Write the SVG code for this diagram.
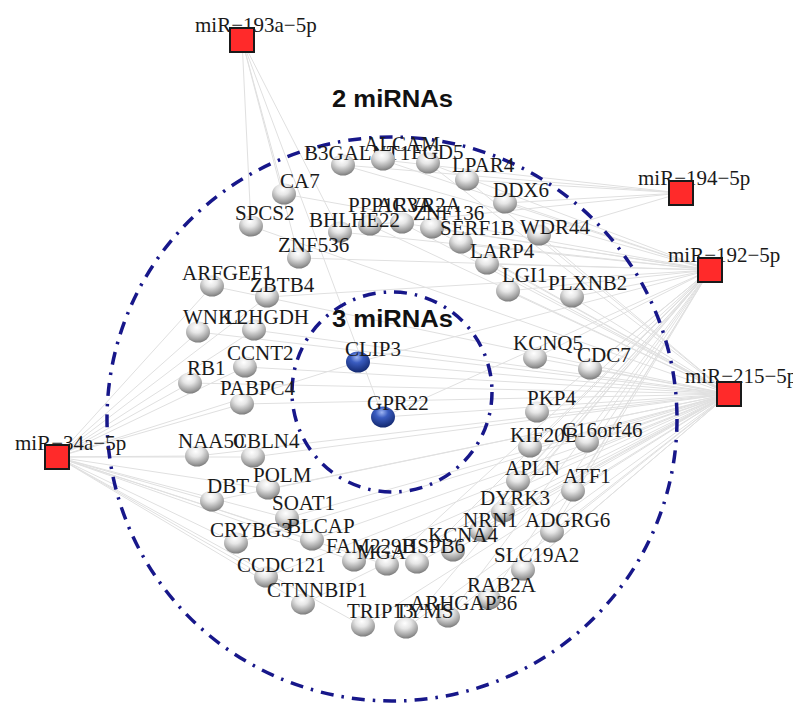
<svg xmlns="http://www.w3.org/2000/svg" width="793" height="706" viewBox="0 0 793 706">
<defs>
<radialGradient id="gs" cx="0.45" cy="0.28" r="0.75">
<stop offset="0" stop-color="#ffffff"/>
<stop offset="0.35" stop-color="#e6e6e6"/>
<stop offset="0.8" stop-color="#9c9c9c"/>
<stop offset="1" stop-color="#747474"/>
</radialGradient>
<radialGradient id="bs" cx="0.45" cy="0.28" r="0.75">
<stop offset="0" stop-color="#9db4f2"/>
<stop offset="0.35" stop-color="#3a5cc0"/>
<stop offset="1" stop-color="#10256a"/>
</radialGradient>
</defs>
<style>
.g{font-family:"Liberation Serif","Times New Roman",serif;font-size:21px;fill:#1a1a1a}
.m{font-family:"Liberation Serif","Times New Roman",serif;font-size:21px;fill:#1a1a1a}
.h{font-family:"Liberation Sans",Arial,sans-serif;font-size:23px;font-weight:bold;fill:#111}
.ring{fill:none;stroke:#17178a;stroke-width:3.5;stroke-dasharray:13 8 2.5 8}
.sq{fill:#ff2a2a;stroke:#1a1a1a;stroke-width:2}
.sp{fill:url(#gs)}
.bp{fill:url(#bs)}
#edges line{stroke:#e0e0e0;stroke-width:1}
</style>
<rect width="793" height="706" fill="#ffffff"/>
<g id="edges">
<line x1="57" y1="457" x2="212" y2="286"/><line x1="57" y1="457" x2="198" y2="332"/><line x1="57" y1="457" x2="254" y2="330"/>
<line x1="57" y1="457" x2="190" y2="383"/><line x1="57" y1="457" x2="245" y2="367"/><line x1="57" y1="457" x2="242" y2="404"/>
<line x1="57" y1="457" x2="197" y2="456"/><line x1="57" y1="457" x2="253" y2="457"/><line x1="57" y1="457" x2="268" y2="489"/>
<line x1="57" y1="457" x2="212" y2="501"/><line x1="57" y1="457" x2="287" y2="518"/><line x1="57" y1="457" x2="236" y2="543"/>
<line x1="57" y1="457" x2="312" y2="540"/><line x1="57" y1="457" x2="266" y2="577"/><line x1="57" y1="457" x2="303" y2="604"/>
<line x1="57" y1="457" x2="354" y2="561"/><line x1="57" y1="457" x2="363" y2="626"/><line x1="57" y1="457" x2="267" y2="297"/>
<line x1="57" y1="457" x2="387" y2="565"/><line x1="57" y1="457" x2="358" y2="362"/>
<line x1="242" y1="40" x2="284" y2="194"/><line x1="242" y1="40" x2="299" y2="258"/><line x1="242" y1="40" x2="340" y2="232"/>
<line x1="242" y1="40" x2="251" y2="226"/><line x1="242" y1="40" x2="383" y2="417"/>
<line x1="681" y1="193" x2="343" y2="165"/><line x1="681" y1="193" x2="383" y2="160"/><line x1="681" y1="193" x2="505" y2="203"/>
<line x1="681" y1="193" x2="539" y2="235"/><line x1="681" y1="193" x2="370" y2="225"/><line x1="681" y1="193" x2="467" y2="180"/>
<line x1="710" y1="270" x2="343" y2="165"/><line x1="710" y1="270" x2="383" y2="160"/><line x1="710" y1="270" x2="505" y2="203"/>
<line x1="710" y1="270" x2="284" y2="194"/><line x1="710" y1="270" x2="299" y2="258"/><line x1="710" y1="270" x2="340" y2="232"/>
<line x1="710" y1="270" x2="267" y2="297"/><line x1="710" y1="270" x2="387" y2="565"/><line x1="710" y1="270" x2="428" y2="163"/>
<line x1="710" y1="270" x2="402" y2="223"/><line x1="710" y1="270" x2="432" y2="228"/><line x1="710" y1="270" x2="461" y2="243"/>
<line x1="710" y1="270" x2="487" y2="264"/><line x1="710" y1="270" x2="508" y2="291"/><line x1="710" y1="270" x2="572" y2="297"/>
<line x1="710" y1="270" x2="535" y2="358"/><line x1="710" y1="270" x2="590" y2="369"/><line x1="710" y1="270" x2="537" y2="412"/>
<line x1="710" y1="270" x2="530" y2="447"/><line x1="710" y1="270" x2="587" y2="442"/><line x1="710" y1="270" x2="518" y2="481"/>
<line x1="710" y1="270" x2="573" y2="491"/><line x1="710" y1="270" x2="503" y2="512"/><line x1="710" y1="270" x2="481" y2="531"/>
<line x1="710" y1="270" x2="552" y2="532"/><line x1="710" y1="270" x2="523" y2="570"/><line x1="710" y1="270" x2="489" y2="599"/>
<line x1="710" y1="270" x2="448" y2="617"/><line x1="710" y1="270" x2="406" y2="628"/><line x1="710" y1="270" x2="453" y2="551"/>
<line x1="710" y1="270" x2="417" y2="563"/><line x1="710" y1="270" x2="358" y2="362"/><line x1="710" y1="270" x2="383" y2="417"/>
<line x1="729" y1="394" x2="539" y2="235"/><line x1="729" y1="394" x2="370" y2="225"/><line x1="729" y1="394" x2="467" y2="180"/>
<line x1="729" y1="394" x2="251" y2="226"/><line x1="729" y1="394" x2="428" y2="163"/><line x1="729" y1="394" x2="402" y2="223"/>
<line x1="729" y1="394" x2="432" y2="228"/><line x1="729" y1="394" x2="461" y2="243"/><line x1="729" y1="394" x2="487" y2="264"/>
<line x1="729" y1="394" x2="508" y2="291"/><line x1="729" y1="394" x2="572" y2="297"/><line x1="729" y1="394" x2="535" y2="358"/>
<line x1="729" y1="394" x2="590" y2="369"/><line x1="729" y1="394" x2="537" y2="412"/><line x1="729" y1="394" x2="530" y2="447"/>
<line x1="729" y1="394" x2="587" y2="442"/><line x1="729" y1="394" x2="518" y2="481"/><line x1="729" y1="394" x2="573" y2="491"/>
<line x1="729" y1="394" x2="503" y2="512"/><line x1="729" y1="394" x2="481" y2="531"/><line x1="729" y1="394" x2="552" y2="532"/>
<line x1="729" y1="394" x2="523" y2="570"/><line x1="729" y1="394" x2="489" y2="599"/><line x1="729" y1="394" x2="448" y2="617"/>
<line x1="729" y1="394" x2="406" y2="628"/><line x1="729" y1="394" x2="453" y2="551"/><line x1="729" y1="394" x2="417" y2="563"/>
<line x1="729" y1="394" x2="212" y2="286"/><line x1="729" y1="394" x2="198" y2="332"/><line x1="729" y1="394" x2="254" y2="330"/>
<line x1="729" y1="394" x2="190" y2="383"/><line x1="729" y1="394" x2="245" y2="367"/><line x1="729" y1="394" x2="242" y2="404"/>
<line x1="729" y1="394" x2="197" y2="456"/><line x1="729" y1="394" x2="253" y2="457"/><line x1="729" y1="394" x2="268" y2="489"/>
<line x1="729" y1="394" x2="212" y2="501"/><line x1="729" y1="394" x2="287" y2="518"/><line x1="729" y1="394" x2="236" y2="543"/>
<line x1="729" y1="394" x2="312" y2="540"/><line x1="729" y1="394" x2="266" y2="577"/><line x1="729" y1="394" x2="303" y2="604"/>
<line x1="729" y1="394" x2="354" y2="561"/><line x1="729" y1="394" x2="363" y2="626"/><line x1="729" y1="394" x2="358" y2="362"/>
<line x1="729" y1="394" x2="383" y2="417"/>
</g>
<g id="rings">
<ellipse class="ring" cx="392" cy="419" rx="285" ry="282"/>
<circle class="ring" cx="392" cy="392" r="100"/>
<text class="h" x="332" y="107" textLength="121" lengthAdjust="spacingAndGlyphs">2 miRNAs</text>
<text class="h" x="332" y="327" textLength="121" lengthAdjust="spacingAndGlyphs">3 miRNAs</text>
</g>
<g id="genes">
<g id="n-B3GALNT1"><ellipse class="sp" cx="343" cy="165" rx="12" ry="10.5"/><text class="g" x="304" y="160">B3GALNT1</text></g>
<g id="n-ALCAM"><ellipse class="sp" cx="383" cy="160" rx="12" ry="10.5"/><text class="g" x="364" y="151">ALCAM</text></g>
<g id="n-FGD5"><ellipse class="sp" cx="428" cy="163" rx="12" ry="10.5"/><text class="g" x="411" y="159">FGD5</text></g>
<g id="n-LPAR4"><ellipse class="sp" cx="467" cy="180" rx="12" ry="10.5"/><text class="g" x="452" y="172">LPAR4</text></g>
<g id="n-CA7"><ellipse class="sp" cx="284" cy="194" rx="12" ry="10.5"/><text class="g" x="280" y="188">CA7</text></g>
<g id="n-DDX6"><ellipse class="sp" cx="505" cy="203" rx="12" ry="10.5"/><text class="g" x="493" y="197">DDX6</text></g>
<g id="n-SPCS2"><ellipse class="sp" cx="251" cy="226" rx="12" ry="10.5"/><text class="g" x="235" y="220">SPCS2</text></g>
<g id="n-PPP1R3A"><ellipse class="sp" cx="370" cy="225" rx="12" ry="10.5"/><text class="g" x="348" y="212">PPP1R3A</text></g>
<g id="n-ACVR2A"><ellipse class="sp" cx="402" cy="223" rx="12" ry="10.5"/><text class="g" x="377" y="212">ACVR2A</text></g>
<g id="n-ZNF136"><ellipse class="sp" cx="432" cy="228" rx="12" ry="10.5"/><text class="g" x="413" y="220">ZNF136</text></g>
<g id="n-BHLHE22"><ellipse class="sp" cx="340" cy="232" rx="12" ry="10.5"/><text class="g" x="309" y="227">BHLHE22</text></g>
<g id="n-WDR44"><ellipse class="sp" cx="539" cy="235" rx="12" ry="10.5"/><text class="g" x="520" y="234">WDR44</text></g>
<g id="n-SERF1B"><ellipse class="sp" cx="461" cy="243" rx="12" ry="10.5"/><text class="g" x="440" y="235">SERF1B</text></g>
<g id="n-ZNF536"><ellipse class="sp" cx="299" cy="258" rx="12" ry="10.5"/><text class="g" x="278" y="252">ZNF536</text></g>
<g id="n-LARP4"><ellipse class="sp" cx="487" cy="264" rx="12" ry="10.5"/><text class="g" x="470" y="258">LARP4</text></g>
<g id="n-ARFGEF1"><ellipse class="sp" cx="212" cy="286" rx="12" ry="10.5"/><text class="g" x="182" y="280">ARFGEF1</text></g>
<g id="n-LGI1"><ellipse class="sp" cx="508" cy="291" rx="12" ry="10.5"/><text class="g" x="502" y="282">LGI1</text></g>
<g id="n-ZBTB4"><ellipse class="sp" cx="267" cy="297" rx="12" ry="10.5"/><text class="g" x="250" y="292">ZBTB4</text></g>
<g id="n-PLXNB2"><ellipse class="sp" cx="572" cy="297" rx="12" ry="10.5"/><text class="g" x="548" y="290">PLXNB2</text></g>
<g id="n-WNK1"><ellipse class="sp" cx="198" cy="332" rx="12" ry="10.5"/><text class="g" x="183" y="324">WNK1</text></g>
<g id="n-L2HGDH"><ellipse class="sp" cx="254" cy="330" rx="12" ry="10.5"/><text class="g" x="225" y="324">L2HGDH</text></g>
<g id="n-KCNQ5"><ellipse class="sp" cx="535" cy="358" rx="12" ry="10.5"/><text class="g" x="513" y="350">KCNQ5</text></g>
<g id="n-CCNT2"><ellipse class="sp" cx="245" cy="367" rx="12" ry="10.5"/><text class="g" x="227" y="360">CCNT2</text></g>
<g id="n-CDC7"><ellipse class="sp" cx="590" cy="369" rx="12" ry="10.5"/><text class="g" x="577" y="362">CDC7</text></g>
<g id="n-RB1"><ellipse class="sp" cx="190" cy="383" rx="12" ry="10.5"/><text class="g" x="187" y="375">RB1</text></g>
<g id="n-PABPC4"><ellipse class="sp" cx="242" cy="404" rx="12" ry="10.5"/><text class="g" x="220" y="395">PABPC4</text></g>
<g id="n-PKP4"><ellipse class="sp" cx="537" cy="412" rx="12" ry="10.5"/><text class="g" x="527" y="405">PKP4</text></g>
<g id="n-KIF20B"><ellipse class="sp" cx="530" cy="447" rx="12" ry="10.5"/><text class="g" x="510" y="442">KIF20B</text></g>
<g id="n-C16orf46"><ellipse class="sp" cx="587" cy="442" rx="12" ry="10.5"/><text class="g" x="562" y="437">C16orf46</text></g>
<g id="n-NAA50"><ellipse class="sp" cx="197" cy="456" rx="12" ry="10.5"/><text class="g" x="178" y="448">NAA50</text></g>
<g id="n-CBLN4"><ellipse class="sp" cx="253" cy="457" rx="12" ry="10.5"/><text class="g" x="233" y="448">CBLN4</text></g>
<g id="n-APLN"><ellipse class="sp" cx="518" cy="481" rx="12" ry="10.5"/><text class="g" x="505" y="475">APLN</text></g>
<g id="n-POLM"><ellipse class="sp" cx="268" cy="489" rx="12" ry="10.5"/><text class="g" x="253" y="482">POLM</text></g>
<g id="n-ATF1"><ellipse class="sp" cx="573" cy="491" rx="12" ry="10.5"/><text class="g" x="563" y="483">ATF1</text></g>
<g id="n-DBT"><ellipse class="sp" cx="212" cy="501" rx="12" ry="10.5"/><text class="g" x="207" y="493">DBT</text></g>
<g id="n-DYRK3"><ellipse class="sp" cx="503" cy="512" rx="12" ry="10.5"/><text class="g" x="480" y="505">DYRK3</text></g>
<g id="n-SOAT1"><ellipse class="sp" cx="287" cy="518" rx="12" ry="10.5"/><text class="g" x="272" y="510">SOAT1</text></g>
<g id="n-NRN1"><ellipse class="sp" cx="481" cy="531" rx="12" ry="10.5"/><text class="g" x="463" y="527">NRN1</text></g>
<g id="n-ADGRG6"><ellipse class="sp" cx="552" cy="532" rx="12" ry="10.5"/><text class="g" x="525" y="527">ADGRG6</text></g>
<g id="n-BLCAP"><ellipse class="sp" cx="312" cy="540" rx="12" ry="10.5"/><text class="g" x="287" y="533">BLCAP</text></g>
<g id="n-CRYBG3"><ellipse class="sp" cx="236" cy="543" rx="12" ry="10.5"/><text class="g" x="210" y="537">CRYBG3</text></g>
<g id="n-KCNA4"><ellipse class="sp" cx="453" cy="551" rx="12" ry="10.5"/><text class="g" x="428" y="542">KCNA4</text></g>
<g id="n-FAM229B"><ellipse class="sp" cx="354" cy="561" rx="12" ry="10.5"/><text class="g" x="326" y="553">FAM229B</text></g>
<g id="n-MGA"><ellipse class="sp" cx="387" cy="565" rx="12" ry="10.5"/><text class="g" x="357" y="559">MGA</text></g>
<g id="n-HSPB6"><ellipse class="sp" cx="417" cy="563" rx="12" ry="10.5"/><text class="g" x="402" y="553">HSPB6</text></g>
<g id="n-SLC19A2"><ellipse class="sp" cx="523" cy="570" rx="12" ry="10.5"/><text class="g" x="494" y="562">SLC19A2</text></g>
<g id="n-CCDC121"><ellipse class="sp" cx="266" cy="577" rx="12" ry="10.5"/><text class="g" x="237" y="572">CCDC121</text></g>
<g id="n-RAB2A"><ellipse class="sp" cx="489" cy="599" rx="12" ry="10.5"/><text class="g" x="467" y="592">RAB2A</text></g>
<g id="n-CTNNBIP1"><ellipse class="sp" cx="303" cy="604" rx="12" ry="10.5"/><text class="g" x="267" y="597">CTNNBIP1</text></g>
<g id="n-ARHGAP36"><ellipse class="sp" cx="448" cy="617" rx="12" ry="10.5"/><text class="g" x="410" y="610">ARHGAP36</text></g>
<g id="n-TRIP13"><ellipse class="sp" cx="363" cy="626" rx="12" ry="10.5"/><text class="g" x="347" y="618">TRIP13</text></g>
<g id="n-TYMS"><ellipse class="sp" cx="406" cy="628" rx="12" ry="10.5"/><text class="g" x="395" y="618">TYMS</text></g>
<g id="n-CLIP3"><ellipse class="bp" cx="358" cy="362" rx="12" ry="10.5"/><text class="g" x="345" y="356">CLIP3</text></g>
<g id="n-GPR22"><ellipse class="bp" cx="383" cy="417" rx="12" ry="10.5"/><text class="g" x="367" y="410">GPR22</text></g>
</g>
<g id="mirnas">
<g id="m-193a"><text class="m" x="195" y="32">miR−193a−5p</text><rect class="sq" x="230" y="28" width="24" height="24"/></g>
<g id="m-194"><text class="m" x="638" y="185">miR−194−5p</text><rect class="sq" x="669" y="181" width="24" height="24"/></g>
<g id="m-192"><text class="m" x="668" y="262">miR−192−5p</text><rect class="sq" x="698" y="258" width="24" height="24"/></g>
<g id="m-215"><text class="m" x="685" y="383">miR−215−5p</text><rect class="sq" x="717" y="382" width="24" height="24"/></g>
<g id="m-34a"><text class="m" x="15" y="450">miR−34a−5p</text><rect class="sq" x="45" y="445" width="24" height="24"/></g>
</g>
</svg>
